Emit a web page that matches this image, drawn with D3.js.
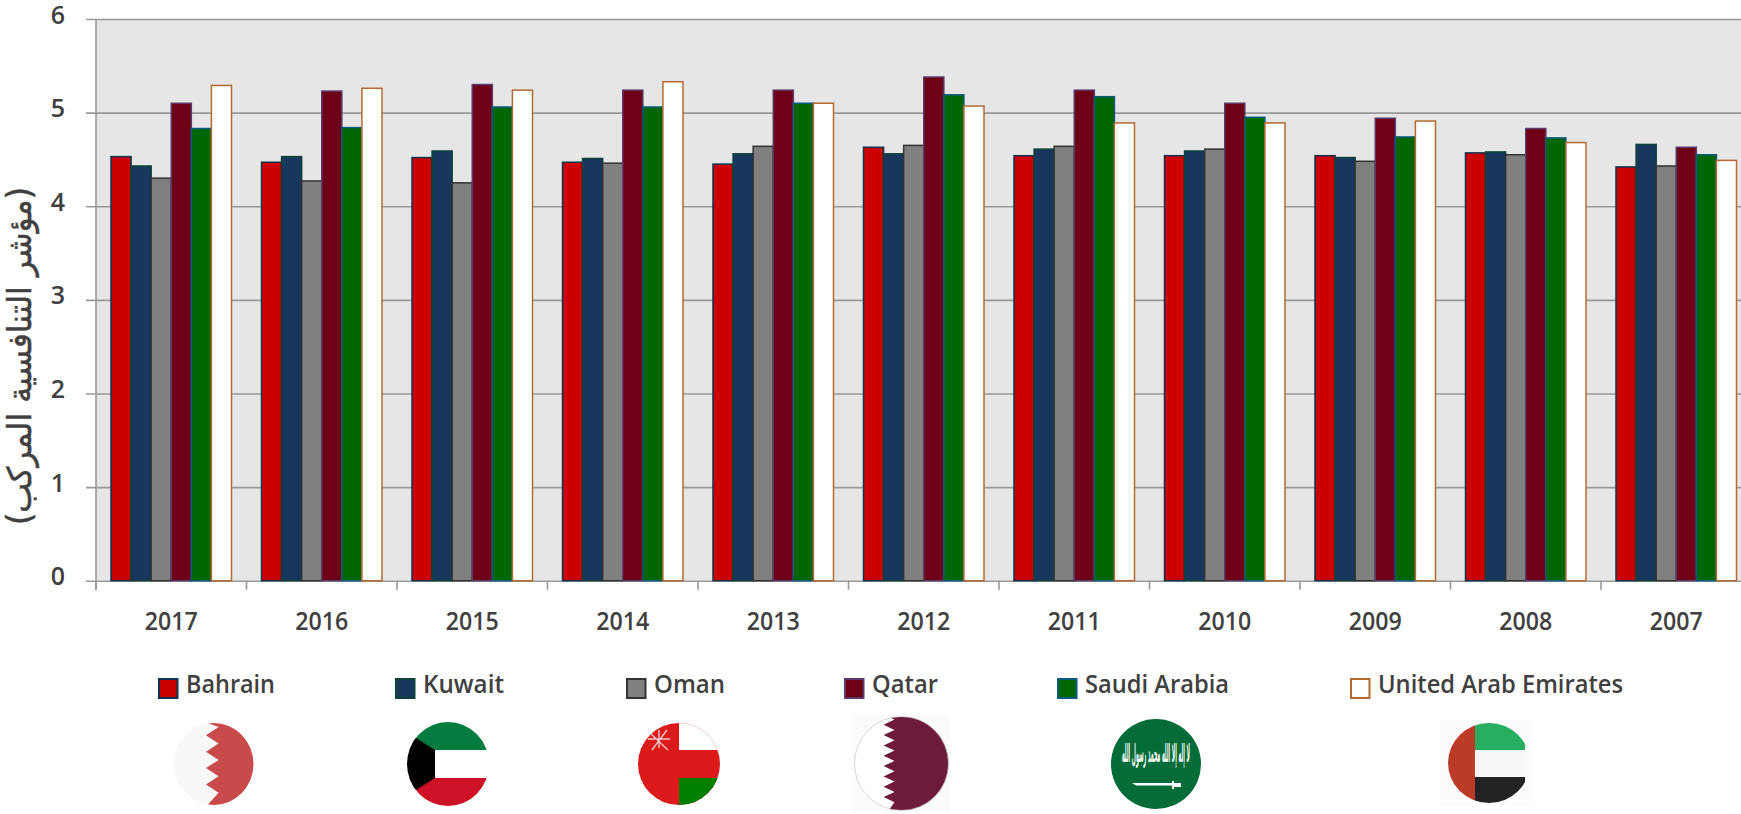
<!DOCTYPE html>
<html lang="ar">
<meta charset="utf-8">
<style>
  body { margin: 0; background: #fff; overflow: hidden; }
  svg { display: block; }
  text { font-family: "Open Sans", sans-serif; font-weight: 600; fill: #404040; }
</style>
<body>
<script src="https://d3js.org/d3.v7.min.js"></script>
<script>

var years = ["2017", "2016", "2015", "2014", "2013", "2012", "2011", "2010", "2009", "2008", "2007"];
var countries = ["Bahrain", "Kuwait", "Oman", "Qatar", "Saudi Arabia", "United Arab Emirates"];

var bahrain = [4.53, 4.47, 4.52, 4.47, 4.45, 4.63, 4.54, 4.54, 4.54, 4.57, 4.42];
var kuwait  = [4.43, 4.53, 4.59, 4.51, 4.56, 4.56, 4.61, 4.59, 4.52, 4.58, 4.66];
var oman    = [4.30, 4.27, 4.25, 4.46, 4.64, 4.65, 4.64, 4.61, 4.48, 4.55, 4.43];
var qatar   = [5.10, 5.23, 5.30, 5.24, 5.24, 5.38, 5.24, 5.10, 4.94, 4.83, 4.63];
var saudi   = [4.83, 4.84, 5.06, 5.06, 5.10, 5.19, 5.17, 4.95, 4.74, 4.73, 4.55];
var uae     = [5.29, 5.26, 5.24, 5.33, 5.10, 5.07, 4.89, 4.89, 4.91, 4.68, 4.49];

var series = [bahrain, kuwait, oman, qatar, saudi, uae];

var fills   = ["#cc0000", "#17375e", "#808080", "#6e0017", "#006600", "#ffffff"];
var strokes = ["#0f3550", "#0c4238", "#333333", "#5a3a66", "#0b5a80", "#b36a30"];

var yTitle = "(مؤشر التنافسية المركب)";

var width = 1741,
    height = 814,
    left = 96,
    top0 = 19,
    bottom = 580.7,
    catWidth = 150.5,
    catPad = 15;

var svg = d3.select("body").append("svg")
    .attr("width", width)
    .attr("height", height);

var x0 = d3.scaleBand().domain(years).range([left, left + catWidth * years.length]);
var x1 = d3.scaleBand().domain(countries).range([catPad, catWidth - catPad]);
var y = d3.scaleLinear().domain([0, 6]).range([bottom, top0]);

svg.append("rect")
    .attr("x", left)
    .attr("y", top0)
    .attr("width", width - left)
    .attr("height", bottom - top0)
    .attr("fill", "#e6e6e6");

// y axis, the long tick lines are the grid
var yAxis = svg.append("g")
    .attr("transform", "translate(" + left + ",0)")
    .call(d3.axisLeft(y).ticks(6).tickFormat(d3.format("d")));

yAxis.select(".domain").remove();
yAxis.selectAll(".tick line")
    .attr("x1", -10)
    .attr("x2", width - left)
    .attr("stroke", "#999")
    .attr("stroke-width", 1.6);
yAxis.selectAll(".tick text")
    .attr("x", -31)
    .attr("dy", null)
    .attr("y", 4)
    .style("font-size", "25px");

svg.append("line")
    .attr("x1", left).attr("x2", left)
    .attr("y1", top0).attr("y2", bottom + 9)
    .attr("stroke", "#999")
    .attr("stroke-width", 1.6);

svg.selectAll(".cat-tick")
    .data(years)
    .enter().append("line")
    .attr("class", "cat-tick")
    .attr("x1", function(d) { return x0(d); })
    .attr("x2", function(d) { return x0(d); })
    .attr("y1", bottom)
    .attr("y2", bottom + 9)
    .attr("stroke", "#999")
    .attr("stroke-width", 1.6);

// bars
var groups = svg.selectAll(".year")
    .data(years)
    .enter().append("g")
    .attr("class", "year")
    .attr("transform", function(d) { return "translate(" + x0(d) + ",0)"; });

groups.selectAll("rect")
    .data(function(d, i) {
      return countries.map(function(c, j) { return {country: c, j: j, value: series[j][i]}; });
    })
    .enter().append("rect")
    .attr("x", function(d) { return x1(d.country); })
    .attr("y", function(d) { return y(d.value); })
    .attr("width", x1.bandwidth())
    .attr("height", function(d) { return bottom - y(d.value); })
    .attr("fill", function(d) { return fills[d.j]; })
    .attr("stroke", function(d) { return strokes[d.j]; })
    .attr("stroke-width", 1.5);

// year labels
var xAxis = svg.append("g")
    .attr("transform", "translate(0," + bottom + ")")
    .call(d3.axisBottom(x0).tickSize(0));
xAxis.select(".domain").remove();
xAxis.selectAll(".tick text")
    .attr("y", 49)
    .attr("dy", null)
    .attr("textLength", 53)
    .attr("lengthAdjust", "spacingAndGlyphs")
    .style("font-size", "26px");

svg.append("text")
    .attr("transform", "translate(31,356) rotate(-90)")
    .attr("text-anchor", "middle")
    .attr("direction", "rtl")
    .attr("textLength", 338)
    .attr("lengthAdjust", "spacingAndGlyphs")
    .attr("stroke", "#404040")
    .attr("stroke-width", 0.5)
    .style("font-family", "'DejaVu Sans', sans-serif")
    .style("font-weight", 400)
    .style("font-size", "33px")
    .text(yTitle);

// legend
var legendX = [158, 395, 626, 844, 1057, 1350];
var legendLen = [89, 81, 71, 66, 144, 245];

var legend = svg.selectAll(".legend")
    .data(countries)
    .enter().append("g")
    .attr("class", "legend")
    .attr("transform", function(d, i) { return "translate(" + legendX[i] + ",678)"; });

legend.append("rect")
    .attr("x", 1)
    .attr("y", 1)
    .attr("width", 18.5)
    .attr("height", 19)
    .attr("fill", function(d, i) { return fills[i]; })
    .attr("stroke", function(d, i) { return strokes[i]; })
    .attr("stroke-width", 2);

legend.append("text")
    .attr("x", 28)
    .attr("y", 15)
    .attr("textLength", function(d, i) { return legendLen[i]; })
    .attr("lengthAdjust", "spacingAndGlyphs")
    .style("font-size", "25px")
    .text(function(d) { return d; });

// flags
var defs = svg.append("defs");

function flag(id, cx, cy, rx, ry) {
  defs.append("clipPath").attr("id", id)
    .append("ellipse")
    .attr("cx", cx).attr("cy", cy).attr("rx", rx).attr("ry", ry);
  return svg.append("g").attr("clip-path", "url(#" + id + ")");
}

function zigzag(xa, xb, yTop, yBottom, teeth, xEnd) {
  var pts = [[xEnd + 60, yTop], [xEnd, yTop]];
  var step = (yBottom - yTop) / teeth;
  for (var i = 0; i < teeth; i++) {
    pts.push([xb, yTop + step * (i + 0.25)]);
    pts.push([xa, yTop + step * (i + 0.75)]);
  }
  pts.pop();
  pts.push([xEnd, yBottom], [xEnd + 60, yBottom]);
  return "M" + pts.join("L") + "Z";
}

function box(g, x, y, w, h, color) {
  g.append("rect").attr("x", x).attr("y", y).attr("width", w).attr("height", h).attr("fill", color);
}

// Bahrain
var fb = flag("f-bh", 213.5, 764, 40, 41);
box(fb, 170, 720, 90, 90, "#f8f8f8");
fb.append("path").attr("d", zigzag(206, 218.6, 723, 805, 5, 207.5)).attr("fill", "#c94a4a");

// Kuwait
var fk = flag("f-kw", 448, 764, 41, 42);
box(fk, 400, 720, 100, 30, "#047c3f");
box(fk, 400, 750, 100, 28, "#ffffff");
box(fk, 400, 778, 100, 30, "#cf1128");
fk.append("path").attr("d", "M400,728L416,738L435,750V778L416,790L400,800Z").attr("fill", "#000");

// Oman
var fo = flag("f-om", 679, 764, 41, 41);
box(fo, 630, 720, 100, 90, "#dc1a1c");
box(fo, 679, 720, 50, 30, "#ffffff");
box(fo, 679, 778, 50, 30, "#018000");
fo.append("path")
    .attr("d", "M648,739H670M650,733L668,750M667,730L652,750M659,730V748")
    .attr("stroke", "#f4c6c6")
    .attr("stroke-width", 1.4)
    .attr("fill", "none");

// Qatar
box(svg, 852, 714, 98, 99, "#fbfbfb");
var fq = flag("f-qa", 901.5, 763.5, 47, 47);
box(fq, 850, 714, 100, 100, "#ffffff");
fq.append("path").attr("d", zigzag(883.6, 894.5, 717, 810, 9, 889)).attr("fill", "#6d1a3c");
svg.append("ellipse")
    .attr("cx", 901.5).attr("cy", 763.5).attr("rx", 47).attr("ry", 47)
    .attr("fill", "none")
    .attr("stroke", "#ccc")
    .attr("stroke-width", 0.8);

// Saudi Arabia
var fs = flag("f-sa", 1156, 764, 45, 45);
box(fs, 1105, 715, 100, 100, "#036c38");
fs.append("text")
    .attr("x", 1156)
    .attr("y", 762)
    .attr("text-anchor", "middle")
    .attr("direction", "rtl")
    .attr("textLength", 68)
    .attr("lengthAdjust", "spacingAndGlyphs")
    .style("font-family", "'DejaVu Sans', sans-serif")
    .style("font-weight", 700)
    .style("font-size", "25px")
    .style("fill", "#fff")
    .text("لا إله إلا الله محمد رسول الله");
fs.append("path")
    .attr("d", "M1132,783H1172V781H1174V783H1181V787H1174V789H1172V785.5H1136Z")
    .attr("fill", "#fff");

// UAE
box(svg, 1440, 720, 90, 86, "#fcfcfc");
svg.append("clipPath").attr("id", "f-ae-cut")
    .append("rect").attr("x", 1440).attr("y", 715).attr("width", 85).attr("height", 95);
var fa = flag("f-ae", 1489, 763, 41, 40);
var fa2 = fa.append("g").attr("clip-path", "url(#f-ae-cut)");
box(fa2, 1475, 720, 60, 30, "#27ae60");
box(fa2, 1475, 750, 60, 27, "#f8f8f8");
box(fa2, 1475, 777, 60, 30, "#232323");
box(fa2, 1440, 720, 35, 90, "#bc3a28");

</script>
</body>
</html>
